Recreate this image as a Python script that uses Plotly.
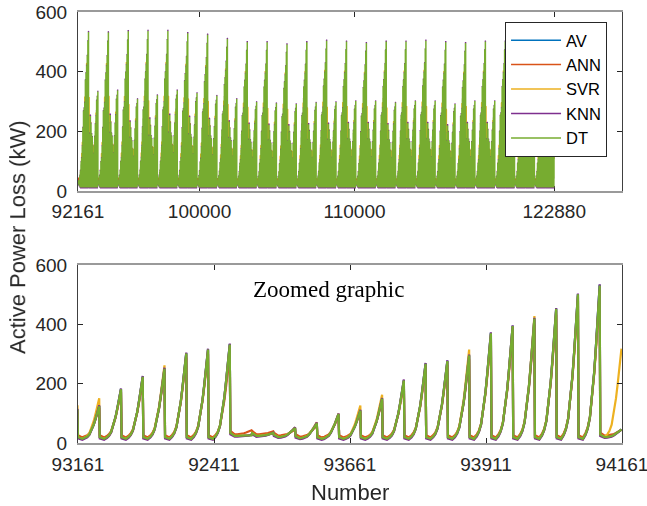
import plotly.graph_objects as go

# ---- series and colours -------------------------------------------------
SERIES = ["AV", "ANN", "SVR", "KNN", "DT"]
COLORS = ["#0072BD", "#D95319", "#EDB120", "#7E2F8E", "#77AC30"]

# ---- sample layout --------------------------------------------------------
START, END = 92161, 122880          # samples shown in the overview
FIRST_PEAK = 92200                  # first load peak after START
PEAK_STEP = 40                      # samples between consecutive peaks
PEAKS_PER_CYCLE = 32                # peaks in one load cycle

# Peak losses (kW) of the 32 spikes of one cycle, per model.
# Index 16 is the cycle maximum, index 31 the closing (secondary) peak.
CYCLE_AV = [26, 34, 50, 67, 98, 110, 150, 212, 268, 277, 296, 371, 395, 420, 453, 502, 533,
            45, 192, 252, 226, 190, 181, 150, 113, 125, 182, 224, 252, 303, 316, 333]
CYCLE_ANN = [43, 39, 45, 60, 90, 104, 142, 200, 254, 263, 282, 352, 376, 400, 432, 480, 512,
             44, 180, 238, 214, 182, 172, 142, 106, 118, 172, 212, 240, 288, 300, 300]
CYCLE_SVR = [26, 33, 52, 70, 99, 126, 163, 208, 262, 272, 315, 365, 392, 428, 447, 495, 515,
             314, 185, 245, 230, 185, 175, 155, 127, 151, 178, 220, 262, 298, 312, 328]
CYCLE_KNN = [27, 35, 53, 69, 99, 112, 152, 214, 270, 279, 298, 373, 397, 422, 455, 504, 535,
             45, 195, 255, 228, 193, 183, 152, 115, 127, 184, 226, 254, 305, 318, 335]
CYCLE_DT = [26, 34, 50, 66, 97, 109, 149, 211, 267, 276, 295, 370, 394, 419, 452, 501, 531,
            45, 190, 250, 225, 190, 180, 150, 112, 124, 181, 223, 250, 302, 315, 332]

# Trough (kW) reached before each spike, and a per-model offset of it
CYCLE_TROUGH = [24, 24, 20, 16, 14, 14, 14, 14, 14, 14, 14, 14, 14, 14, 14, 14, 14,
                20, 14, 14, 14, 14, 14, 14, 14, 14, 14, 14, 14, 14, 14, 14]
TROUGH_SHIFT = [0, 5, 0, -3, 0]

# Maximum and closing peak of each of the 24 cycles (kW)
MAIN_PEAKS = [532, 531, 535, 536, 536, 528, 523, 509, 498, 498, 491, 498,
              503, 500, 495, 500, 500, 503, 498, 495, 500, 500, 500, 500]
SECOND_PEAKS = [332, 336, 307, 320, 336, 327, 318, 307, 297, 293, 290, 295,
                297, 300, 300, 295, 300, 300, 290, 300, 300, 300, 300, 300]

# Rising edge of a spike: sample offset from the peak and share of the rise
RISE_OFFSETS = [-31, -26, -22, -18, -14, -10, -7, -4, -2, 0]
RISE_SHARE = [0.0, 0.03, 0.07, 0.14, 0.27, 0.44, 0.60, 0.77, 0.89, 1.0]

# ---- zoomed window ----------------------------------------------------------
ZOOM_START, ZOOM_END = 93161, 94161
ZOOM_TICKVALS = [0, 250, 500, 750, 1000]
ZOOM_TICKTEXT = ["93161", "92411", "93661", "93911", "94161"]
TOP_TICKS = [92161, 100000, 110000, 122880]
Y_TICKS = [0, 200, 400, 600]

CYCLES = [CYCLE_AV, CYCLE_ANN, CYCLE_SVR, CYCLE_KNN, CYCLE_DT]


def build_series(cycle, shift):
    xs, ys = [], []
    for k in range(len(MAIN_PEAKS)):
        f_main = MAIN_PEAKS[k] / CYCLE_DT[16]
        f_sec = SECOND_PEAKS[k] / CYCLE_DT[31]
        for j in range(PEAKS_PER_CYCLE):
            p = FIRST_PEAK + (k * PEAKS_PER_CYCLE + j) * PEAK_STEP
            v = cycle[j] * (f_main if j <= 16 else f_sec)
            b = max(CYCLE_TROUGH[j] + shift, 1)
            xs.append(p - PEAK_STEP + 1)
            ys.append(b * 1.4)
            for off, share in zip(RISE_OFFSETS, RISE_SHARE):
                xs.append(p + off)
                ys.append(b + share * (v - b))
    return xs, ys


fig = go.Figure()
for name, color, cycle, shift in zip(SERIES, COLORS, CYCLES, TROUGH_SHIFT):
    xs, ys = build_series(cycle, shift)
    fig.add_trace(go.Scattergl(x=xs, y=ys, mode="lines", name=name,
                               line=dict(color=color, width=1.5),
                               xaxis="x", yaxis="y"))
    zx, zy = [], []
    for x, y in zip(xs, ys):
        if ZOOM_START - 1 <= x < ZOOM_END:
            zx.append(x - ZOOM_START)
            zy.append(y)
    fig.add_trace(go.Scatter(x=zx, y=zy, mode="lines", name=name, showlegend=False,
                             line=dict(color=color, width=2.2),
                             xaxis="x2", yaxis="y2"))

tick_font = dict(family="Liberation Sans, Arial, sans-serif", size=19, color="#262626")
axis_common = dict(showline=True, mirror="ticks", ticks="inside", ticklen=5,
                   tickcolor="#262626", showgrid=False, zeroline=False,
                   tickfont=tick_font, ticklabeloverflow="allow", automargin=False)

fig.update_layout(
    width=647, height=506,
    margin=dict(l=78, r=25, t=12, b=63),
    paper_bgcolor="white", plot_bgcolor="white",
    xaxis=dict(domain=[0, 1], range=[START, 127250], tickvals=TOP_TICKS,
               ticktext=[str(t) for t in TOP_TICKS], anchor="y",
               linecolor="#9a9a9a", linewidth=1.5, ticklabelstandoff=2, **axis_common),
    yaxis=dict(domain=[0.5847, 1], range=[0, 600], tickvals=Y_TICKS, anchor="x",
               linecolor="#404040", linewidth=1, ticklabelstandoff=6, **axis_common),
    xaxis2=dict(domain=[0, 1], range=[0, 1000], tickvals=ZOOM_TICKVALS,
                ticktext=ZOOM_TICKTEXT, anchor="y2",
                linecolor="#9a9a9a", linewidth=1.5, ticklabelstandoff=3, **axis_common),
    yaxis2=dict(domain=[0, 0.413], range=[0, 600], tickvals=Y_TICKS, anchor="x2",
                linecolor="#404040", linewidth=1, ticklabelstandoff=6, **axis_common),
    legend=dict(x=0.785, y=0.977, xanchor="left", yanchor="top",
                bgcolor="white", bordercolor="#262626", borderwidth=1,
                itemwidth=50,
                font=dict(family="Liberation Sans, Arial, sans-serif", size=16.5, color="#000000"),
                tracegroupgap=0),
    showlegend=True,
)

fig.add_annotation(text="Active Power Loss (kW)", xref="paper", yref="paper",
                   x=-0.111, y=0.477, textangle=-90, showarrow=False,
                   xanchor="center", yanchor="middle",
                   font=dict(family="Liberation Sans, Arial, sans-serif", size=22, color="#262626"))
fig.add_annotation(text="Number", xref="paper", yref="paper",
                   x=0.5, y=-0.116, showarrow=False, xanchor="center", yanchor="middle",
                   font=dict(family="Liberation Sans, Arial, sans-serif", size=22, color="#262626"))
fig.add_annotation(text="Zoomed graphic", xref="x2", yref="y2",
                   x=460, y=519, showarrow=False, xanchor="center", yanchor="middle",
                   font=dict(family="Liberation Serif, Times New Roman, serif", size=23, color="#000000"))

fig.write_html("out.html")
